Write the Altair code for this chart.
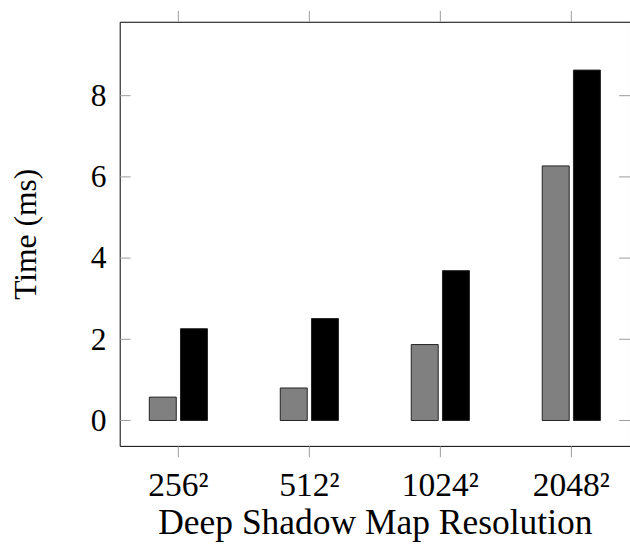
import altair as alt
import pandas as pd

categories = ["256²", "512²", "1024²", "2048²"]
series = ["A", "B"]
values_a = [0.575, 0.80, 1.87, 6.27]
values_b = [2.26, 2.51, 3.69, 8.63]
y_ticks = [0, 2, 4, 6, 8]

rows = []
for c, a, b in zip(categories, values_a, values_b):
    rows.append({"res": c, "series": "A", "value": a})
    rows.append({"res": c, "series": "B", "value": b})
df = pd.DataFrame(rows)
tick_df = pd.DataFrame({"t": y_ticks})
cat_df = pd.DataFrame({"res": categories})

W = 518
H = 430.5
FONT = "Liberation Serif"
TICK = "#9a9a9a"

xscale = alt.Scale(domain=categories, paddingInner=0.556, paddingOuter=0.226)
yscale = alt.Scale(domain=[-0.626, 9.82], nice=False, zero=False)

bars = alt.Chart(df).mark_bar(stroke="#222222", strokeWidth=1).encode(
    x=alt.X("res:N", sort=categories, scale=xscale,
            axis=alt.Axis(title="Deep Shadow Map Resolution", labelAngle=0,
                          labelFont=FONT, labelFontSize=34, labelColor="black",
                          titleFont=FONT, titleFontSize=36, titleFontWeight="normal",
                          titleColor="black", titleY=88.5, titleBaseline="alphabetic",
                          tickSize=11, tickColor=TICK, tickWidth=1,
                          labelPadding=12.5, domain=False, grid=False)),
    xOffset=alt.XOffset("series:N", sort=series,
                        scale=alt.Scale(domain=series, paddingInner=0.136, paddingOuter=0)),
    y=alt.Y("value:Q", stack=None, scale=yscale,
            axis=alt.Axis(title="Time (ms)", values=y_ticks, ticks=False, domain=False,
                          grid=False, labelFont=FONT, labelFontSize=32, labelColor="black",
                          labelPadding=14, titleFont=FONT, titleFontSize=32,
                          titleFontWeight="normal", titleColor="black", titlePadding=48)),
    color=alt.Color("series:N", scale=alt.Scale(domain=series, range=["#808080", "#000000"]),
                    legend=None),
)

left_ticks = alt.Chart(tick_df).mark_rule(color=TICK, strokeWidth=1).encode(
    y=alt.Y("t:Q", scale=yscale), x=alt.value(0), x2=alt.value(11))
right_ticks = alt.Chart(tick_df).mark_rule(color=TICK, strokeWidth=1).encode(
    y=alt.Y("t:Q", scale=yscale), x=alt.value(W - 11), x2=alt.value(W))
top_ticks = alt.Chart(cat_df).mark_rule(color=TICK, strokeWidth=1).encode(
    x=alt.X("res:N", sort=categories, scale=xscale), y=alt.value(-11), y2=alt.value(0))

chart = alt.layer(bars, left_ticks, right_ticks, top_ticks).properties(
    width=W, height=H,
    autosize=alt.AutoSizeParams(type="none"),
    padding={"left": 121.5, "top": 18, "right": 0, "bottom": 97.5},
).configure_view(stroke="black", strokeWidth=1)

chart.save("out.html", embed_options={"renderer": "svg", "actions": False})
